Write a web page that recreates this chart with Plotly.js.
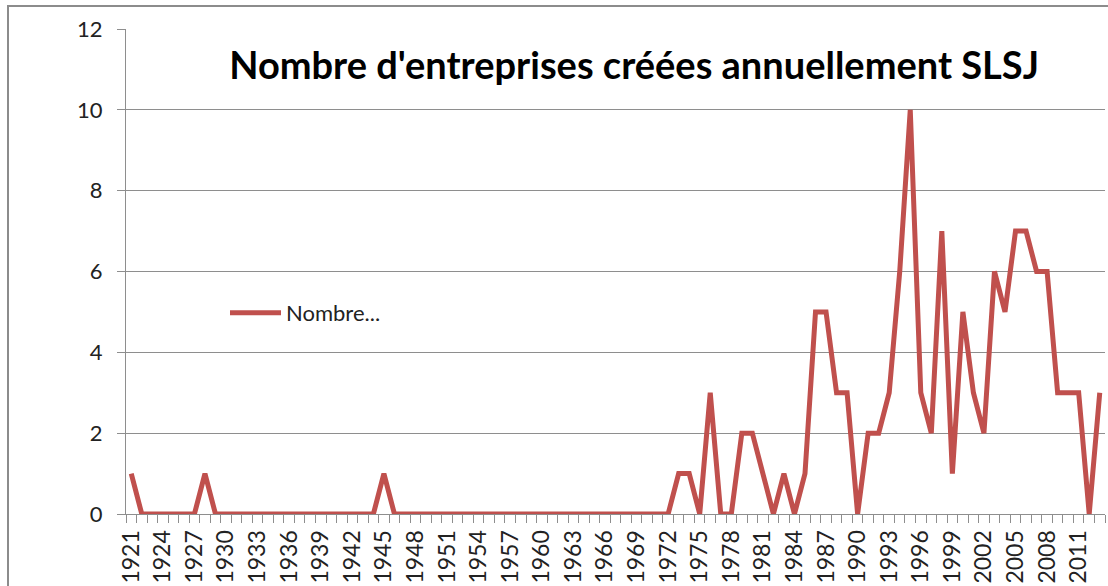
<!DOCTYPE html>
<html>
<head>
<meta charset="utf-8">
<script src="https://cdn.plot.ly/plotly-3.0.1.min.js"></script>
<style>
  html, body { margin: 0; padding: 0; background: #ffffff; overflow: hidden; }
  #frame { position: absolute; left: 7px; top: 5px; width: 1300px; height: 800px;
           border: 2px solid #8c8c8c; box-sizing: border-box; }
  #chart { position: absolute; left: 0; top: 0; width: 1108px; height: 586px; }
</style>
</head>
<body>
<div id="frame"></div>
<div id="chart"></div>
<script>
// Years 1921 - 2013
const years = [
  1921,1922,1923,1924,1925,1926,1927,1928,1929,1930,
  1931,1932,1933,1934,1935,1936,1937,1938,1939,1940,
  1941,1942,1943,1944,1945,1946,1947,1948,1949,1950,
  1951,1952,1953,1954,1955,1956,1957,1958,1959,1960,
  1961,1962,1963,1964,1965,1966,1967,1968,1969,1970,
  1971,1972,1973,1974,1975,1976,1977,1978,1979,1980,
  1981,1982,1983,1984,1985,1986,1987,1988,1989,1990,
  1991,1992,1993,1994,1995,1996,1997,1998,1999,2000,
  2001,2002,2003,2004,2005,2006,2007,2008,2009,2010,
  2011,2012,2013
];
const counts = [
  1,0,0,0,0,0,0,1,0,0,
  0,0,0,0,0,0,0,0,0,0,
  0,0,0,0,1,0,0,0,0,0,
  0,0,0,0,0,0,0,0,0,0,
  0,0,0,0,0,0,0,0,0,0,
  0,0,1,1,0,3,0,0,2,2,
  1,0,1,0,1,5,5,3,3,0,
  2,2,3,6,10,3,2,7,1,5,
  3,2,6,5,7,7,6,6,3,3,
  3,0,3
];
const tickYears = [1921,1924,1927,1930,1933,1936,1939,1942,1945,1948,1951,1954,1957,1960,
  1963,1966,1969,1972,1975,1978,1981,1984,1987,1990,1993,1996,1999,2002,2005,2008,2011];
const yTicks = [0,2,4,6,8,10,12];
const seriesName = "Nombre...";
const chartTitle = "Nombre d'entreprises créées annuellement SLSJ";

const trace = {
  x: years, y: counts, type: 'scatter', mode: 'lines', name: seriesName,
  line: { color: '#C0504D', width: 5 }
};

const layout = {
  width: 1108, height: 586,
  margin: { l: 126, r: 3, t: 29, b: 72 },
  paper_bgcolor: 'rgba(0,0,0,0)',
  plot_bgcolor: 'rgba(0,0,0,0)',
  font: { family: 'Lato, sans-serif', color: '#222222', size: 22 },
  title: {
    text: chartTitle,
    font: { family: 'Lato, sans-serif', size: 38, color: '#000000', weight: 'bold' },
    xref: 'paper', x: 0.519, xanchor: 'center',
    yref: 'container', y: 1 - 66/586, yanchor: 'middle'
  },
  xaxis: {
    type: 'linear',
    range: [years[0] - 0.5, years[years.length - 1] + 0.5],
    tickmode: 'array', tickvals: tickYears, ticktext: tickYears.map(String),
    tickangle: -90, ticks: '', showgrid: false, zeroline: false,
    showline: true, linecolor: '#8e8e8e', linewidth: 1,
    ticklabelstandoff: 6,
    tickfont: { size: 23, color: '#222222' },
    minor: { tickmode: 'linear', tick0: years[0] - 0.5, dtick: 1, ticks: 'outside',
             ticklen: 8, tickcolor: '#8e8e8e', tickwidth: 1, showgrid: false }
  },
  yaxis: {
    range: [0, 12], tickmode: 'array', tickvals: yTicks,
    ticks: 'outside', ticklen: 8, tickcolor: '#8e8e8e', tickwidth: 1,
    showgrid: true, gridcolor: '#8e8e8e', gridwidth: 1, zeroline: false,
    showline: true, linecolor: '#8e8e8e', linewidth: 1,
    ticklabelstandoff: 10,
    tickfont: { size: 22, color: '#222222' }
  },
  showlegend: true,
  legend: {
    x: (225 - 126) / 979, xanchor: 'left',
    y: (514 - 313) / 485, yanchor: 'middle',
    bgcolor: 'rgba(0,0,0,0)', borderwidth: 0,
    font: { size: 22, color: '#222222' },
    itemwidth: 51
  }
};

Plotly.newPlot('chart', [trace], layout, { displayModeBar: false, staticPlot: true });
</script>
</body>
</html>
